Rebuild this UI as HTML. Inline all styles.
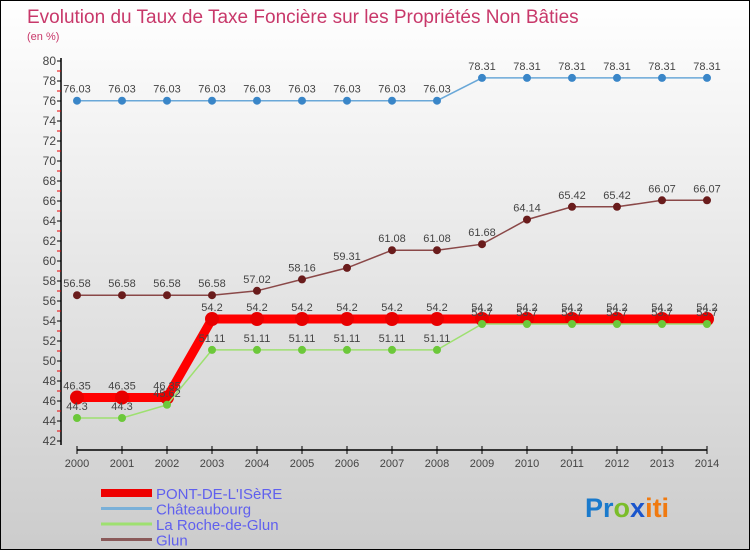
<!DOCTYPE html>
<html><head><meta charset="utf-8"><style>
body{margin:0}
#c{width:748px;height:548px;border:1px solid #000;background:linear-gradient(#fff,#ccc);position:relative;overflow:hidden;font-family:"Liberation Sans",sans-serif}
</style></head><body>
<div id="c">
<svg id="s" width="748" height="548" style="position:absolute;left:0;top:0">
<text x="26" y="22" font-size="19" fill="#c8386a">Evolution du Taux de Taxe Foncière sur les Propriétés Non Bâties</text>
<text x="26" y="39" font-size="11" fill="#c8386a">(en %)</text>
<g id="g"></g>
</svg>
<svg width="120" height="40" style="position:absolute;left:580px;top:488px">
<text x="4" y="28" font-size="27" font-weight="bold"><tspan fill="#1a7acc">Pr</tspan><tspan fill="#7bbd2a">o</tspan><tspan fill="#1a55cc">x</tspan><tspan fill="#f07a10">iti</tspan></text>
</svg>
</div>
<script>
const years=[2000,2001,2002,2003,2004,2005,2006,2007,2008,2009,2010,2011,2012,2013,2014];
const pont=[46.35,46.35,46.35,54.2,54.2,54.2,54.2,54.2,54.2,54.2,54.2,54.2,54.2,54.2,54.2];
const chat=[76.03,76.03,76.03,76.03,76.03,76.03,76.03,76.03,76.03,78.31,78.31,78.31,78.31,78.31,78.31];
const roche=[44.3,44.3,45.62,51.11,51.11,51.11,51.11,51.11,51.11,53.7,53.7,53.7,53.7,53.7,53.7];
const glun=[56.58,56.58,56.58,56.58,57.02,58.16,59.31,61.08,61.08,61.68,64.14,65.42,65.42,66.07,66.07];
const yTicks=[42,44,46,48,50,52,54,56,58,60,62,64,66,68,70,72,74,76,78,80];
const X=i=>76+i*45, Y=v=>420-(v-44)*10;
const g=document.getElementById('g'),NS='http://www.w3.org/2000/svg';
function el(t,a,n){const e=document.createElementNS(NS,t);for(const k in a)e.setAttribute(k,a[k]);


g.appendChild(e);return e;}
el('line',{x1:60,y1:57,x2:60,y2:444,stroke:'#000','stroke-width':1.5},'y-axis');
el('line',{x1:76,y1:449,x2:706,y2:449,stroke:'#000','stroke-width':1.5},'x-axis');
yTicks.forEach(v=>{el('line',{x1:56,x2:60,y1:Y(v),y2:Y(v),stroke:'#000'},'y-tick');
if(v<80)el('line',{x1:56,x2:60,y1:Y(v+1),y2:Y(v+1),stroke:'#e00'},'y-minor-tick');
const t=el('text',{x:55,y:Y(v)+4,'font-size':12,fill:'#444','text-anchor':'end'},'y-tick-label');t.textContent=v;});
years.forEach((y,i)=>{el('line',{x1:X(i),x2:X(i),y1:445,y2:453,stroke:'#000'},'x-tick');
const t=el('text',{x:X(i),y:466,'font-size':11,fill:'#444','text-anchor':'middle'},'x-tick-label');t.textContent=y;});
function series(d,col,w,r,fc,name){
el('polyline',{points:d.map((v,i)=>X(i)+','+Y(v)).join(' '),fill:'none',stroke:col,'stroke-width':w},name+'-line');
d.forEach((v,i)=>{el('circle',{cx:X(i),cy:Y(v),r:r,fill:fc},name+'-point');
const t=el('text',{x:X(i),y:Y(v)-8,'font-size':11,fill:'#444','text-anchor':'middle'},name+'-value-label');t.textContent=v;});}
series(chat,'#6aa8d8',1.5,4,'#3a86c8','chateaubourg');
series(glun,'#8a4848',1.5,4,'#6a1c1c','glun');
series(pont,'#f00',9,7,'#e80000','pont-de-l-isere');
series(roche,'#9ee070',1.5,4,'#6cc83a','la-roche-de-glun');
const leg=[['PONT-DE-L\'ISèRE','#e00',8],['Châteaubourg','#7ab0d8',3],['La Roche-de-Glun','#9ee070',3],['Glun','#8a5a5a',3]];
leg.forEach((l,i)=>{const y=492+i*15.5;
el('line',{x1:100,x2:151,y1:y,y2:y,stroke:l[1],'stroke-width':l[2]},'legend-swatch');
const t=el('text',{x:155,y:y+6,'font-size':15,fill:'#6060ee'},'legend-entry');t.textContent=l[0];});
</script>
</body></html>
